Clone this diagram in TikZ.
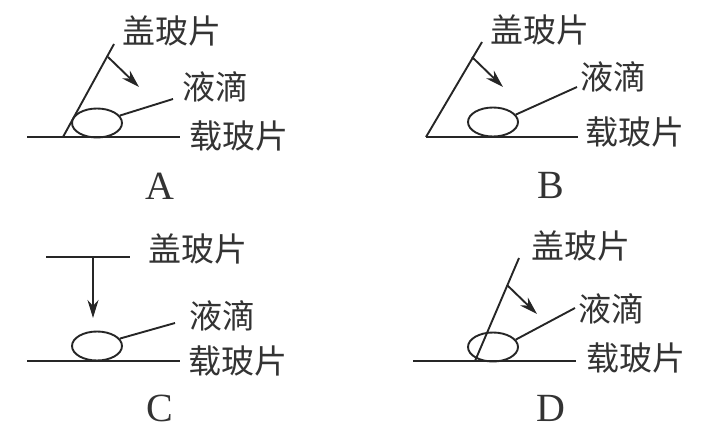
\documentclass[tikz,border=0pt]{standalone}
\usepackage{fontspec}
\setmainfont{Liberation Serif}
\newfontfamily\cjk{Noto Sans CJK SC}
\usetikzlibrary{arrows.meta,shapes.geometric}

\begin{document}
\begin{tikzpicture}[
  x=1pt, y=-1pt,
  color=black!85,
  line width=1.9pt,
  label text/.style={font=\cjk\fontsize{33}{33}\selectfont, text=black!80, inner sep=0pt},
  panel text/.style={font=\fontsize{40}{40}\selectfont, text=black!80, inner sep=0pt},
  drop/.style={ellipse, draw, minimum width=50pt, minimum height=29pt, inner sep=0pt},
  push/.style={-{Stealth[length=18pt,width=11pt]}}
]
\useasboundingbox (0,0) rectangle (722,436);

% A
\coordinate (baseA1) at (27,137);
\coordinate (baseA2) at (180,137);
\coordinate (slipA1) at (63,137);
\coordinate (slipA2) at (114,44);
\coordinate (pushA1) at (108,57);
\coordinate (pushA2) at (139,87);
\coordinate (tipA) at (173,99);
\node[drop] (dropA) at (97,123) {};
\node[label text] (coverA) at (172,31) {盖玻片};
\node[label text] (liquidA) at (215,87) {液滴};
\node[label text] (slideA) at (239,136) {载玻片};
\node[panel text] (nameA) at (160,186) {A};
\draw (baseA1) -- (baseA2);
\draw (slipA1) -- (slipA2);
\draw[push] (pushA1) -- (pushA2);
\draw (dropA.18) -- (tipA);

% B
\coordinate (baseB1) at (426,137);
\coordinate (baseB2) at (578,137);
\coordinate (slipB2) at (482,42);
\coordinate (pushB1) at (472,57);
\coordinate (pushB2) at (503,87);
\coordinate (tipB) at (577,87);
\node[drop] (dropB) at (493,122) {};
\node[label text] (coverB) at (540,30) {盖玻片};
\node[label text] (liquidB) at (613,77) {液滴};
\node[label text] (slideB) at (635,132) {载玻片};
\node[panel text] (nameB) at (551,185) {B};
\draw (baseB1) -- (baseB2);
\draw (baseB1) -- (slipB2);
\draw[push] (pushB1) -- (pushB2);
\draw (dropB.18) -- (tipB);

% C
\coordinate (baseC1) at (27,361);
\coordinate (baseC2) at (180,361);
\coordinate (slipC1) at (46,257);
\coordinate (slipC2) at (130,257);
\coordinate (pushC1) at (93,257);
\coordinate (pushC2) at (93,318);
\coordinate (tipC) at (175,323);
\node[drop] (dropC) at (97,346) {};
\node[label text] (coverC) at (198,249) {盖玻片};
\node[label text] (liquidC) at (222,316) {液滴};
\node[label text] (slideC) at (238,361) {载玻片};
\node[panel text] (nameC) at (160,408) {C};
\draw (baseC1) -- (baseC2);
\draw (slipC1) -- (slipC2);
\draw[push] (pushC1) -- (pushC2);
\draw (dropC.18) -- (tipC);

% D
\coordinate (baseD1) at (413,361);
\coordinate (baseD2) at (576,361);
\coordinate (slipD1) at (475,361);
\coordinate (slipD2) at (519,258);
\coordinate (pushD1) at (507,285);
\coordinate (pushD2) at (537,314);
\coordinate (tipD) at (575,308);
\node[drop] (dropD) at (493,347) {};
\node[label text] (coverD) at (581,246) {盖玻片};
\node[label text] (liquidD) at (611,309) {液滴};
\node[label text] (slideD) at (636,358) {载玻片};
\node[panel text] (nameD) at (551,408) {D};
\draw (baseD1) -- (baseD2);
\draw (slipD1) -- (slipD2);
\draw[push] (pushD1) -- (pushD2);
\draw (dropD.18) -- (tipD);
\end{tikzpicture}
\end{document}
